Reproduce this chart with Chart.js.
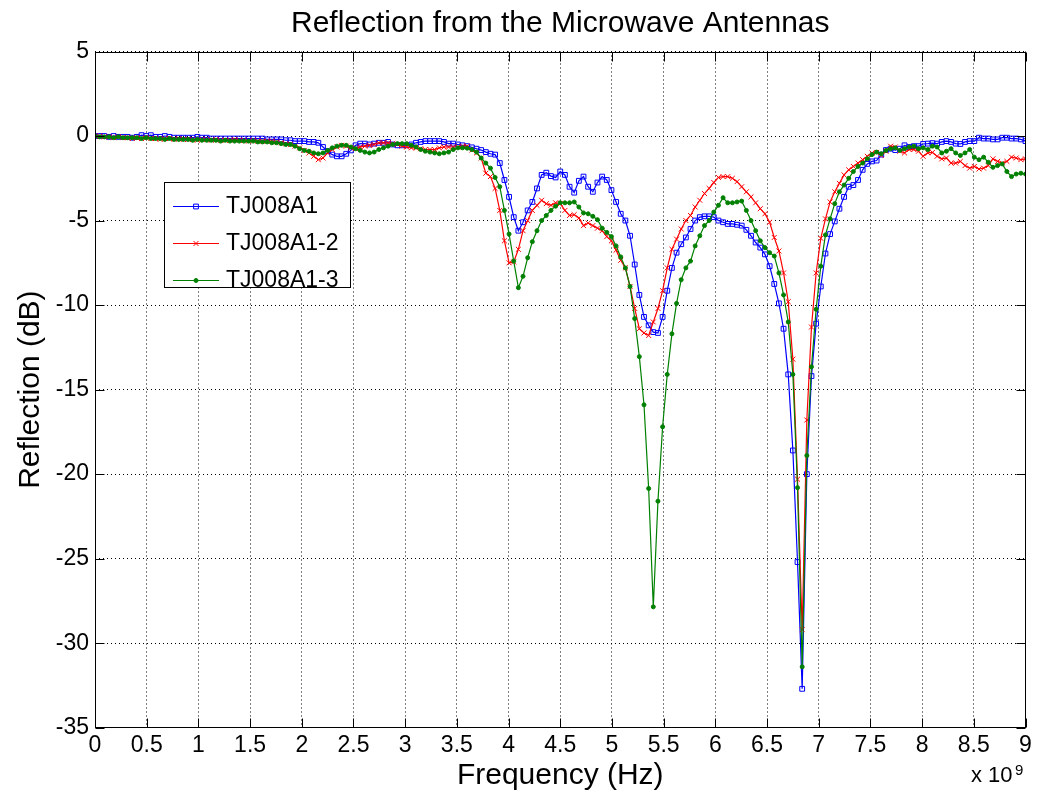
<!DOCTYPE html>
<html>
<head>
<meta charset="utf-8">
<title>Reflection from the Microwave Antennas</title>
<script src="https://cdn.jsdelivr.net/npm/chart.js@4.4.1/dist/chart.umd.min.js"></script>
<style>
    html, body { margin: 0; padding: 0; background: #fff; }
    #wrap { width: 1043px; height: 793px; }
</style>
</head>
<body>
<div id="wrap"><canvas id="reflectionChart" width="1043" height="793"></canvas></div>
<script>
// Sweep frequencies (GHz, axis shows x 10^9)
const freqGHz = [
    0, 0.045, 0.09, 0.135, 0.18, 0.225, 0.27, 0.315, 0.36, 0.405,
    0.45, 0.495, 0.54, 0.585, 0.63, 0.675, 0.72, 0.765, 0.81, 0.855,
    0.9, 0.945, 0.99, 1.035, 1.08, 1.125, 1.17, 1.215, 1.26, 1.305,
    1.35, 1.395, 1.44, 1.485, 1.53, 1.575, 1.62, 1.665, 1.71, 1.755,
    1.8, 1.845, 1.89, 1.935, 1.98, 2.025, 2.07, 2.115, 2.16, 2.205,
    2.25, 2.295, 2.34, 2.385, 2.43, 2.475, 2.52, 2.565, 2.61, 2.655,
    2.7, 2.745, 2.79, 2.835, 2.88, 2.925, 2.97, 3.015, 3.06, 3.105,
    3.15, 3.195, 3.24, 3.285, 3.33, 3.375, 3.42, 3.465, 3.51, 3.555,
    3.6, 3.645, 3.69, 3.735, 3.78, 3.825, 3.87, 3.915, 3.96, 4.005,
    4.05, 4.095, 4.14, 4.185, 4.23, 4.275, 4.32, 4.365, 4.41, 4.455,
    4.5, 4.545, 4.59, 4.635, 4.68, 4.725, 4.77, 4.815, 4.86, 4.905,
    4.95, 4.995, 5.04, 5.085, 5.13, 5.175, 5.22, 5.265, 5.31, 5.355,
    5.4, 5.445, 5.49, 5.535, 5.58, 5.625, 5.67, 5.715, 5.76, 5.805,
    5.85, 5.895, 5.94, 5.985, 6.03, 6.075, 6.12, 6.165, 6.21, 6.255,
    6.3, 6.345, 6.39, 6.435, 6.48, 6.525, 6.57, 6.615, 6.66, 6.705,
    6.75, 6.795, 6.84, 6.885, 6.93, 6.975, 7.02, 7.065, 7.11, 7.155,
    7.2, 7.245, 7.29, 7.335, 7.38, 7.425, 7.47, 7.515, 7.56, 7.605,
    7.65, 7.695, 7.74, 7.785, 7.83, 7.875, 7.92, 7.965, 8.01, 8.055,
    8.1, 8.145, 8.19, 8.235, 8.28, 8.325, 8.37, 8.415, 8.46, 8.505,
    8.55, 8.595, 8.64, 8.685, 8.73, 8.775, 8.82, 8.865, 8.91, 8.955,
    9.0
];

// TJ008A1 (dB)
const reflA1 = [
    0, 0, 0, -0.05, 0, -0.05, -0.05, -0.05, -0.1, -0.05,
    0.05, 0, 0.05, -0.05, -0.05, 0, -0.05, -0.1, -0.1, -0.1,
    -0.1, -0.1, -0.05, -0.1, -0.1, -0.15, -0.15, -0.15, -0.15, -0.15,
    -0.15, -0.15, -0.15, -0.15, -0.15, -0.15, -0.15, -0.2, -0.2, -0.2,
    -0.2, -0.25, -0.25, -0.3, -0.3, -0.3, -0.35, -0.35, -0.4, -0.65,
    -0.9, -1.1, -1.2, -1.2, -1.05, -0.85, -0.55, -0.45, -0.45, -0.5,
    -0.45, -0.4, -0.4, -0.35, -0.5, -0.55, -0.55, -0.55, -0.5, -0.4,
    -0.35, -0.3, -0.3, -0.3, -0.3, -0.35, -0.45, -0.45, -0.5, -0.55,
    -0.6, -0.67, -0.75, -0.83, -0.95, -1.05, -1.1, -1.6, -2.6, -3.6,
    -4.8, -5.6, -5.1, -4.4, -3.9, -3.1, -2.3, -2.17, -2.37, -2.45,
    -2.1, -2.3, -3.0, -3.35, -2.65, -2.4, -3.0, -3.3, -2.75, -2.4,
    -2.6, -3.2, -3.9, -4.6, -5.0, -5.9, -7.6, -9.4, -10.7, -11.2,
    -11.6, -11.65, -10.7, -9.15, -7.8, -6.9, -6.4, -6.0, -5.5, -5.0,
    -4.8, -4.75, -4.75, -4.8, -5.0, -5.1, -5.2, -5.2, -5.25, -5.3,
    -5.55, -5.9, -6.3, -6.6, -7.0, -7.7, -8.75, -9.9, -11.4, -14.1,
    -18.6, -25.2, -32.7, -20.0, -14.2, -11.1, -8.9, -6.95, -5.8, -5.05,
    -4.3, -3.6, -3.0, -2.9, -2.6, -2.0, -1.65, -1.5, -1.45, -1.1,
    -0.83, -0.75, -0.83, -0.75, -0.55, -0.65, -0.6, -0.6, -0.47, -0.45,
    -0.42, -0.45, -0.35, -0.3, -0.35, -0.45, -0.47, -0.35, -0.3, -0.3,
    -0.1, -0.15, -0.15, -0.2, -0.2, -0.1, -0.1, -0.15, -0.15, -0.2,
    -0.3
];

// TJ008A1-2 (dB)
const reflA1_2 = [
    0, 0, -0.05, -0.05, -0.1, -0.05, -0.1, -0.1, -0.15, -0.1,
    -0.15, -0.1, -0.15, -0.15, -0.2, -0.15, -0.15, -0.2, -0.15, -0.2,
    -0.2, -0.2, -0.25, -0.2, -0.2, -0.25, -0.2, -0.25, -0.25, -0.25,
    -0.2, -0.25, -0.25, -0.3, -0.25, -0.3, -0.3, -0.3, -0.3, -0.35,
    -0.4, -0.45, -0.5, -0.6, -0.7, -0.85, -1.0, -1.2, -1.4, -1.3,
    -1.0, -0.8, -0.65, -0.55, -0.6, -0.7, -0.75, -0.65, -0.6, -0.55,
    -0.5, -0.4, -0.4, -0.4, -0.45, -0.5, -0.6, -0.65, -0.7, -0.7,
    -0.75, -0.8, -0.8, -0.8, -0.7, -0.65, -0.65, -0.65, -0.65, -0.6,
    -0.6, -0.83, -1.0, -1.3, -2.2, -2.4, -3.1, -4.4, -6.2, -7.5,
    -7.45, -6.7, -5.6, -5.0, -4.4, -4.1, -3.8, -4.0, -4.1, -3.95,
    -4.0, -4.4, -4.7, -4.65, -4.85, -5.3, -5.15, -5.3, -5.45, -5.6,
    -5.95, -6.2, -6.75, -7.35, -7.8, -8.9, -10.2, -11.4, -11.65, -11.8,
    -11.0, -10.2, -9.15, -7.8, -6.7, -6.1, -5.5, -5.0, -4.7, -4.2,
    -3.8, -3.4, -3.1, -2.75, -2.45, -2.4, -2.4, -2.5, -2.7, -3.0,
    -3.3, -3.6, -3.95, -4.3, -4.6, -5.1, -6.0, -6.8, -8.1, -9.8,
    -13.2, -20.3, -29.2, -16.8, -11.3, -8.1, -6.05, -4.9, -3.9, -3.3,
    -2.8, -2.3, -2.0, -1.8, -1.6, -1.4, -1.2, -1.0, -0.97, -1.15,
    -0.9, -0.6, -0.65, -0.9, -1.0, -0.8, -0.8, -0.9, -1.2, -1.0,
    -0.97, -1.2, -1.35, -1.3, -1.6, -1.6, -1.5, -1.75, -1.9, -1.8,
    -1.95, -1.9, -1.75, -1.35, -1.5, -1.6, -1.5, -1.25, -1.3, -1.4,
    -1.35
];

// TJ008A1-3 (dB)
const reflA1_3 = [
    0, -0.05, -0.05, -0.05, -0.1, -0.05, -0.1, -0.1, -0.1, -0.1,
    -0.15, -0.1, -0.15, -0.15, -0.15, -0.2, -0.15, -0.2, -0.2, -0.2,
    -0.2, -0.25, -0.2, -0.25, -0.25, -0.25, -0.25, -0.3, -0.25, -0.3,
    -0.3, -0.3, -0.3, -0.3, -0.3, -0.35, -0.35, -0.35, -0.4, -0.4,
    -0.45, -0.5, -0.5, -0.6, -0.75, -0.85, -0.9, -1.0, -1.05, -1.0,
    -0.85, -0.7, -0.6, -0.55, -0.55, -0.65, -0.75, -0.85, -0.95, -1.0,
    -0.95, -0.8, -0.7, -0.6, -0.5, -0.45, -0.45, -0.45, -0.55, -0.65,
    -0.8, -0.9, -0.95, -1.0, -1.05, -1.0, -0.95, -0.8, -0.7, -0.7,
    -0.72, -0.8, -0.95, -1.3, -1.6, -1.9, -2.45, -3.0, -4.4, -5.8,
    -7.4, -8.97, -8.3, -7.2, -6.25, -5.6, -5.0, -4.7, -4.4, -4.15,
    -3.95, -3.95, -3.95, -3.9, -4.2, -4.55, -4.6, -4.75, -4.95, -5.45,
    -5.7, -5.95, -6.5, -7.15, -7.8, -8.9, -10.8, -13.05, -15.9, -20.85,
    -27.85, -21.6, -17.2, -14.1, -11.7, -9.9, -8.5, -7.8, -7.4, -6.5,
    -5.9, -5.3, -5.0, -4.5, -4.1, -3.65, -3.95, -3.95, -3.9, -3.85,
    -4.4, -5.0, -5.6, -6.2, -6.6, -6.9, -7.1, -8.1, -9.4, -11.0,
    -14.1, -20.8, -31.4, -18.9, -13.65, -10.25, -7.7, -5.85, -4.9, -4.0,
    -3.3, -2.9, -2.5, -2.1, -1.8, -1.6, -1.35, -1.1, -0.95, -1.05,
    -0.85, -0.75, -0.7, -0.85, -0.75, -0.65, -0.6, -0.75, -0.7, -0.8,
    -0.6, -0.65, -1.0, -0.9, -0.75, -1.0, -1.15, -1.0, -0.8, -1.25,
    -1.4, -1.25, -1.55, -1.85, -1.75, -1.65, -2.1, -2.4, -2.25, -2.2,
    -2.25
];

const seriesNames = ['TJ008A1', 'TJ008A1-2', 'TJ008A1-3'];
const chartTitle = 'Reflection from the Microwave Antennas';
const xTickStep = 0.5;
const yTickStep = 5;

const FONT = '"Liberation Sans", Arial, Helvetica, sans-serif';
Chart.defaults.font.family = FONT;
Chart.defaults.color = '#000';

// Pair frequencies with a series
function toPoints(values) {
    return freqGHz.map((f, i) => ({ x: f, y: values[i] }));
}

// Marker style per series (MATLAB-like)
const styles = [
    { color: '#0000ff', pointStyle: 'rect', radius: 3.4, fill: 'rgba(0,0,0,0)' },
    { color: '#ff0000', pointStyle: 'crossRot', radius: 3.5, fill: '#ff0000' },
    { color: '#008000', pointStyle: 'circle', radius: 2, fill: '#008000' }
];

// Plugin: axes box, inward ticks, title, legend, exponent label
const matlabAxes = {
    id: 'matlabAxes',
    afterDatasetsDraw(chart) {
        const { ctx, chartArea: a, scales } = chart;
        const L = Math.round(a.left) + 0.5, R = Math.round(a.right) - 0.5;
        const T = Math.round(a.top) + 0.5, B = Math.round(a.bottom) - 0.5;
        const tick = 9;
        ctx.save();
        ctx.strokeStyle = '#000';
        ctx.lineWidth = 1;
        ctx.beginPath();
        scales.x.ticks.forEach(t => {
            const px = Math.round(scales.x.getPixelForValue(t.value)) + 0.5;
            ctx.moveTo(px, B); ctx.lineTo(px, B - tick);
            ctx.moveTo(px, T); ctx.lineTo(px, T + tick);
        });
        scales.y.ticks.forEach(t => {
            const py = Math.round(scales.y.getPixelForValue(t.value)) + 0.5;
            ctx.moveTo(L, py); ctx.lineTo(L + tick, py);
            ctx.moveTo(R, py); ctx.lineTo(R - tick, py);
        });
        ctx.stroke();
        ctx.strokeRect(L, T, R - L, B - T);
        ctx.restore();
    },
    afterDraw(chart) {
        const { ctx, chartArea: a } = chart;
        ctx.save();

        // Title centred over the axes
        ctx.fillStyle = '#000';
        ctx.textAlign = 'center';
        ctx.textBaseline = 'alphabetic';
        ctx.font = '30px ' + FONT;
        ctx.fillText(chartTitle, (a.left + a.right) / 2, 32);

        // Legend box
        const box = { x: 164.5, y: 182.5, w: 186, h: 105 };
        ctx.fillStyle = '#fff';
        ctx.fillRect(box.x, box.y, box.w, box.h);
        ctx.strokeStyle = '#000';
        ctx.lineWidth = 1;
        ctx.strokeRect(box.x, box.y, box.w, box.h);

        const rows = [206, 243, 280];
        ctx.font = '23px ' + FONT;
        ctx.textBaseline = 'middle';
        ctx.textAlign = 'left';
        seriesNames.forEach((name, i) => {
            const s = styles[i];
            const y = rows[i] + 0.5;
            ctx.strokeStyle = s.color;
            ctx.lineWidth = 1.2;
            ctx.beginPath();
            ctx.moveTo(173, y);
            ctx.lineTo(219, y);
            ctx.stroke();
            ctx.fillStyle = s.fill;
            ctx.lineWidth = 1;
            Chart.helpers.drawPoint(ctx, {
                pointStyle: s.pointStyle,
                radius: s.radius,
                rotation: 0,
                borderWidth: 1
            }, 196, y);
            ctx.fillStyle = '#000';
            ctx.fillText(name, 226, rows[i] + 1);
        });

        // x 10^9 exponent label
        ctx.fillStyle = '#000';
        ctx.textBaseline = 'alphabetic';
        ctx.font = '22px ' + FONT;
        ctx.fillText('x 10', 971, 782);
        ctx.font = '15px ' + FONT;
        ctx.fillText('9', 1015, 775);
        ctx.restore();
    }
};

const datasets = [reflA1, reflA1_2, reflA1_3].map((values, i) => ({
    label: seriesNames[i],
    data: toPoints(values),
    borderColor: styles[i].color,
    backgroundColor: styles[i].fill,
    borderWidth: 1.2,
    pointStyle: styles[i].pointStyle,
    pointRadius: styles[i].radius,
    pointBorderWidth: 1,
    pointBorderColor: styles[i].color,
    pointBackgroundColor: styles[i].fill,
    tension: 0,
    order: 3 - i
}));

new Chart(document.getElementById('reflectionChart'), {
    type: 'line',
    data: { datasets: datasets },
    options: {
        responsive: false,
        animation: false,
        events: [],
        layout: { padding: { left: 0, right: 17.5, top: 51.5, bottom: 0 } },
        plugins: {
            legend: { display: false },
            tooltip: { enabled: false },
            title: { display: false }
        },
        scales: {
            x: {
                type: 'linear',
                min: 0,
                max: 9,
                ticks: {
                    stepSize: xTickStep,
                    autoSkip: false,
                    maxRotation: 0,
                    padding: 4,
                    color: '#000',
                    font: { size: 23 },
                    callback: value => String(Number(value.toFixed(1)))
                },
                grid: { color: '#000', lineWidth: 1, drawTicks: false },
                border: { display: false, dash: [1, 3] },
                title: {
                    display: true,
                    text: 'Frequency (Hz)',
                    color: '#000',
                    font: { size: 30, lineHeight: 1 },
                    padding: { top: 0, bottom: 2 }
                },
                afterFit(scale) { scale.height = 65.3; }
            },
            y: {
                type: 'linear',
                min: -35,
                max: 5,
                ticks: {
                    stepSize: yTickStep,
                    padding: 6,
                    color: '#000',
                    font: { size: 23 }
                },
                grid: { color: '#000', lineWidth: 1, drawTicks: false },
                border: { display: false, dash: [1, 3] },
                title: {
                    display: true,
                    text: 'Reflection (dB)',
                    color: '#000',
                    font: { size: 30, lineHeight: 1 },
                    padding: { top: 15.5, bottom: 0 }
                },
                afterFit(scale) { scale.width = 95; }
            }
        }
    },
    plugins: [matlabAxes]
});
</script>
</body>
</html>
